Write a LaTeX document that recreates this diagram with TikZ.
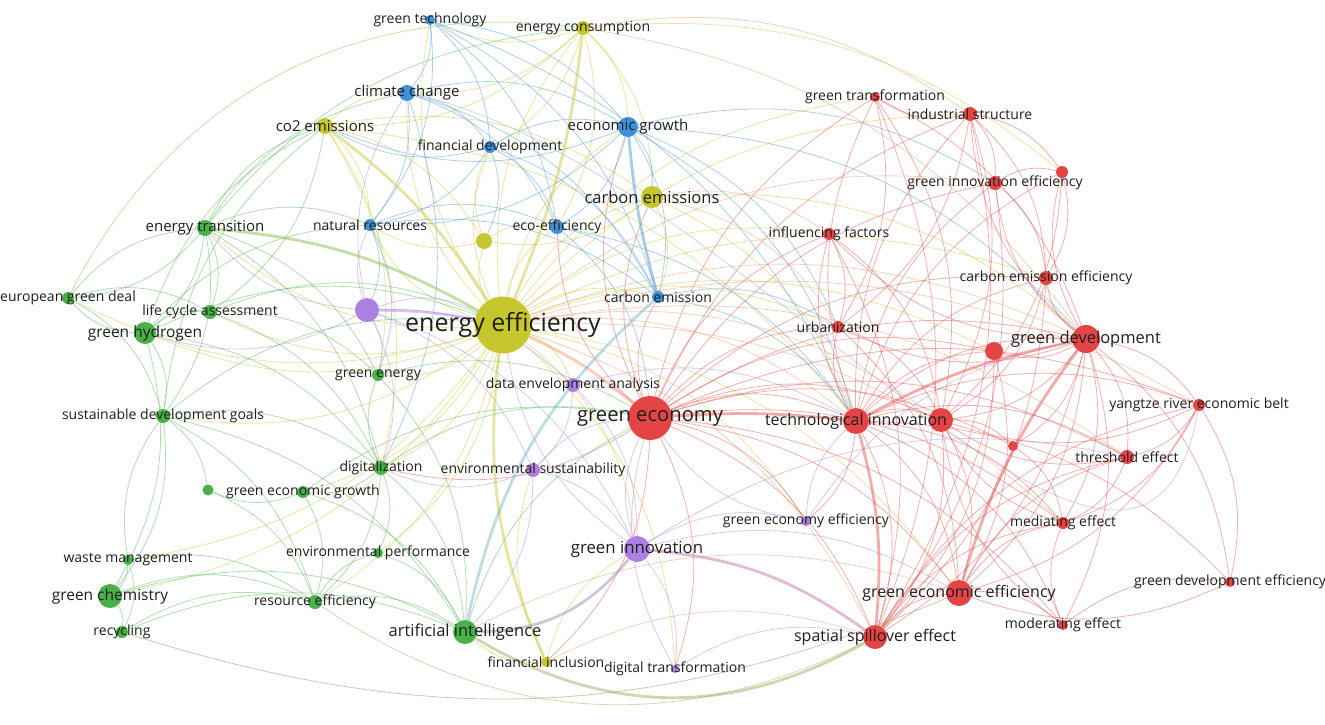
\documentclass[tikz,border=0pt]{standalone}
\usepackage{fontspec}
\setmainfont{Open Sans}
\newcommand\fsz[1]{\fontsize{#1pt}{#1pt}\selectfont}
\definecolor{cG}{RGB}{72,178,72}
\definecolor{cY}{RGB}{198,198,45}
\definecolor{cB}{RGB}{62,145,215}
\definecolor{cR}{RGB}{228,68,68}
\definecolor{cP}{RGB}{172,128,225}
\definecolor{cO}{RGB}{238,150,95}
\definecolor{cT}{RGB}{110,180,190}
\definecolor{cM}{RGB}{160,150,200}
\pgfdeclarelayer{back}
\pgfdeclarelayer{bg}
\pgfsetlayers{back,bg,main}
\tikzset{
  circ/.style={circle, inner sep=0pt, draw=none},
  nG/.style={circ, fill=cG}, nY/.style={circ, fill=cY}, nB/.style={circ, fill=cB},
  nR/.style={circ, fill=cR}, nP/.style={circ, fill=cP},
  lab/.style={inner sep=0pt, text=black!88, font=\fsz{14}},
  e/.style={line width=0.8pt, opacity=0.42, bend left=22},
  e0/.style={line width=0.8pt, opacity=0.42},
  eth/.style={line width=2.8pt, opacity=0.45},
}
\begin{document}
\begin{tikzpicture}[x=1pt, y=-1pt]
\begin{pgfonlayer}{back}
\fill[white] (0,0) rectangle (1325,725);
\end{pgfonlayer}
\useasboundingbox (0,0) rectangle (1325,725);
% ---------- nodes ----------
% blue
\node[nB, minimum size=10pt] (gtech) at (430,20) {};
\node[nB, minimum size=16pt] (cc) at (407,93) {};
\node[nB, minimum size=12pt] (fd) at (490,147) {};
\node[nB, minimum size=20pt] (egr) at (628,127) {};
\node[nB, minimum size=12pt] (nr) at (370,225) {};
\node[nB, minimum size=14pt] (eco) at (557,227) {};
\node[nB, minimum size=12pt] (ce) at (658,297) {};
% yellow
\node[nY, minimum size=14pt] (ec) at (583,28) {};
\node[nY, minimum size=16pt] (co2) at (325,126) {};
\node[nY, minimum size=22pt] (ces) at (652,197) {};
\node[nY, minimum size=16pt] (yel) at (484,241) {};
\node[nY, minimum size=57pt] (ee) at (503,325) {};
\node[nY, minimum size=10pt] (fi) at (546,662) {};
% purple
\node[nP, minimum size=24pt] (pur) at (367,310) {};
\node[nP, minimum size=14pt] (dea) at (573,385) {};
\node[nP, minimum size=14pt] (es) at (533,470) {};
\node[nP, minimum size=26pt] (gi) at (637,549) {};
\node[nP, minimum size=10pt] (gee) at (806,521) {};
\node[nP, minimum size=8pt] (dt) at (675,669) {};
% green
\node[nG, minimum size=16pt] (et) at (205,228) {};
\node[nG, minimum size=12pt] (egd) at (68,298) {};
\node[nG, minimum size=14pt] (lca) at (210,312) {};
\node[nG, minimum size=22pt] (gh) at (145,333) {};
\node[nG, minimum size=12pt] (gen) at (378,375) {};
\node[nG, minimum size=14pt] (sdg) at (163,416) {};
\node[nG, minimum size=14pt] (dig) at (381,468) {};
\node[nG, minimum size=11pt] (gu) at (208,490) {};
\node[nG, minimum size=12pt] (geg) at (303,492) {};
\node[nG, minimum size=10pt] (ep) at (378,553) {};
\node[nG, minimum size=10pt] (wm) at (128,560) {};
\node[nG, minimum size=24pt] (gc) at (110,596) {};
\node[nG, minimum size=14pt] (re) at (315,602) {};
\node[nG, minimum size=12pt] (rec) at (122,632) {};
\node[nG, minimum size=24pt] (ai) at (465,632) {};
% red
\node[nR, minimum size=10pt] (gt) at (875,97) {};
\node[nR, minimum size=14pt] (is) at (970,114) {};
\node[nR, minimum size=12pt] (ru1) at (1062,172) {};
\node[nR, minimum size=14pt] (gie) at (995,183) {};
\node[nR, minimum size=12pt] (inf) at (829,234) {};
\node[nR, minimum size=14pt] (cee) at (1046,278) {};
\node[nR, minimum size=12pt] (urb) at (838,327) {};
\node[nR, minimum size=18pt] (ru2) at (994,351) {};
\node[nR, minimum size=28pt] (gd) at (1086,339) {};
\node[nR, minimum size=44pt] (gec) at (650,418) {};
\node[nR, minimum size=26pt] (ti) at (856,421) {};
\node[nR, minimum size=24pt] (ru3) at (941,420) {};
\node[nR, minimum size=10pt] (ru4) at (1013,446) {};
\node[nR, minimum size=12pt] (yr) at (1199,405) {};
\node[nR, minimum size=14pt] (th) at (1127,457) {};
\node[nR, minimum size=12pt] (me) at (1063,523) {};
\node[nR, minimum size=10pt] (gdeff) at (1230,582) {};
\node[nR, minimum size=26pt] (gef) at (959,593) {};
\node[nR, minimum size=10pt] (mo) at (1063,625) {};
\node[nR, minimum size=24pt] (sse) at (875,637) {};
% ---------- labels ----------
\node[lab] (gtech-t) at (gtech) {green technology};
\node[lab, font=\fsz{15}] (cc-t) at (cc) {climate change};
\node[lab] (fd-t) at (fd) {financial development};
\node[lab, font=\fsz{15}] (egr-t) at (egr) {economic growth};
\node[lab] (nr-t) at (nr) {natural resources};
\node[lab] (eco-t) at (eco) {eco-efficiency};
\node[lab] (ce-t) at (ce) {carbon emission};
\node[lab] (ec-t) at (ec) {energy consumption};
\node[lab, font=\fsz{15}] (co2-t) at (co2) {co2 emissions};
\node[lab, font=\fsz{16.5}] (ces-t) at (ces) {carbon emissions};
\node[lab, font=\fsz{25}] (ee-t) at (ee) {energy efficiency};
\node[lab] (fi-t) at (fi) {financial inclusion};
\node[lab] (dea-t) at (dea) {data envelopment analysis};
\node[lab] (es-t) at (es) {environmental sustainability};
\node[lab, font=\fsz{16.8}] (gi-t) at (gi) {green innovation};
\node[lab] (gee-t) at (gee) {green economy efficiency};
\node[lab] (dt-t) at (dt) {digital transformation};
\node[lab, font=\fsz{15}] (et-t) at (et) {energy transition};
\node[lab] (egd-t) at (egd) {european green deal};
\node[lab] (lca-t) at (lca) {life cycle assessment};
\node[lab, font=\fsz{15.5}] (gh-t) at (gh) {green hydrogen};
\node[lab] (gen-t) at (gen) {green energy};
\node[lab] (sdg-t) at (sdg) {sustainable development goals};
\node[lab] (dig-t) at (dig) {digitalization};
\node[lab] (geg-t) at (geg) {green economic growth};
\node[lab] (ep-t) at (ep) {environmental performance};
\node[lab] (wm-t) at (wm) {waste management};
\node[lab, font=\fsz{15.5}] (gc-t) at (gc) {green chemistry};
\node[lab] (re-t) at (re) {resource efficiency};
\node[lab] (rec-t) at (rec) {recycling};
\node[lab, font=\fsz{16.5}] (ai-t) at (ai) {artificial intelligence};
\node[lab] (gt-t) at (gt) {green transformation};
\node[lab] (is-t) at (is) {industrial structure};
\node[lab] (gie-t) at (gie) {green innovation efficiency};
\node[lab] (inf-t) at (inf) {influencing factors};
\node[lab] (cee-t) at (cee) {carbon emission efficiency};
\node[lab] (urb-t) at (urb) {urbanization};
\node[lab, font=\fsz{16.5}] (gd-t) at (gd) {green development};
\node[lab, font=\fsz{20.2}] (gec-t) at (gec) {green economy};
\node[lab, font=\fsz{16}] (ti-t) at (ti) {technological innovation};
\node[lab] (yr-t) at (yr) {yangtze river economic belt};
\node[lab] (th-t) at (th) {threshold effect};
\node[lab] (me-t) at (me) {mediating effect};
\node[lab] (gdeff-t) at (gdeff) {green development efficiency};
\node[lab, font=\fsz{16}] (gef-t) at (gef) {green economic efficiency};
\node[lab] (mo-t) at (mo) {moderating effect};
\node[lab, font=\fsz{16}] (sse-t) at (sse) {spatial spillover effect};
% ---------- edges ----------
\begin{pgfonlayer}{bg}
% yellow hub
\foreach \b in {gtech,cc,fd,egr,nr,eco,ce,ec,ces,yel,dea,gi,et,lca,gh,gen,sdg,dig,geg,ep,re,egd,wm,gc,inf,urb,gee,dt,gef,cee,is,gt,ru2}
  \draw[e, draw=cY] (ee) to (\b);
\foreach \a/\b in {ec/co2,ec/ces,ec/egr,ec/gtech,ec/cc,co2/ces,co2/nr,co2/yel,co2/cc,ces/yel,ces/ce,yel/nr,yel/fd,fi/gi,fi/es,fi/ai,ec/fd,ces/gd,ces/ti,co2/gen,co2/dig,yel/eco,ec/ru1,co2/ti,ec/eco}
  \draw[e, draw=cY] (\a) to (\b);
% blue
\foreach \a/\b in {gtech/cc,gtech/fd,gtech/egr,gtech/nr,gtech/eco,gtech/ce,cc/fd,cc/egr,cc/nr,cc/eco,cc/ce,fd/egr,fd/nr,fd/eco,fd/ce,fd/co2,egr/eco,egr/ce,egr/ces,egr/nr,egr/co2,nr/eco,nr/ce,eco/ce,egr/ti,egr/gd,eco/ti,ce/ti,ce/urb,nr/gen,cc/dig,fd/yel,eco/gec,nr/pur,egr/urb,gtech/ti,egr/gie}
  \draw[e, draw=cB] (\a) to (\b);
\draw[e0, draw=cM] (cc) to[out=-12, in=-100] (yr);
% red hub green economy
\foreach \b in {ti,sse,gef,gd,ru2,ru3,th,me,cee,inf,urb,is,gie,gt,yr,ces,ce,egr,eco,dig,fi,dt,gee,ru4,mo}
  \draw[e, draw=cR] (gec) to (\b);
\foreach \a/\b in {ti/gd,ti/sse,ti/gef,ti/urb,ti/inf,ti/is,ti/gie,ti/ru1,ti/cee,ti/ru2,ti/ru3,ti/th,ti/yr,ti/me,ti/mo,ti/gdeff,ti/gt,ti/gee,
  gd/ru2,gd/cee,gd/ru1,gd/is,gd/gie,gd/yr,gd/th,gd/gdeff,gd/sse,gd/gef,gd/me,gd/mo,gd/urb,gd/inf,gd/ru3,gd/ru4,
  is/gt,is/gie,is/ru1,is/cee,is/urb,gie/ru1,gie/cee,ru1/cee,sse/gef,sse/me,sse/th,sse/yr,gef/me,gef/mo,gef/th,yr/th,yr/gdeff,yr/me,th/me,mo/me,mo/gdeff,
  ru3/ru4,ru4/me,ru3/sse,ru3/gef,inf/urb,gt/urb,gt/sse,gt/ru3,is/sse,is/ru3,inf/sse,urb/gef,ru2/sse,ru2/gef,cee/sse,cee/ru3,yr/ru3,th/ru3,gie/sse,gdeff/gef,mo/ru3,me/ru3,urb/ru3,inf/ru3,ru1/ru3,yr/gef,gt/gd}
  \draw[e, draw=cR] (\a) to (\b);
% orange mixed (red-yellow)
\foreach \a/\b in {ee/ti,ee/gd,ee/sse,ee/ru3,ee/th,ee/me,ee/yr,ces/urb,ces/inf,ec/gd,ec/is,ee/gie,fi/sse,ai/gef}
  \draw[e, draw=cO] (\a) to (\b);
% purple
\foreach \a/\b in {pur/ee,pur/nr,pur/dea,pur/es,pur/gi,dea/gi,dea/es,es/gi,gi/dt,gi/gee,gi/gef,gee/ti,dt/sse,es/dig,pur/et,pur/gen,pur/cc,dea/gec,es/gec,gi/gec,gi/ee,dea/ti,gee/gd,es/ai,gi/th,dt/gec,pur/dig,gee/gec,pur/gh}
  \draw[e, draw=cP] (\a) to (\b);
% green
\foreach \a/\b in {et/lca,et/gh,et/egd,et/sdg,et/gen,gh/lca,gh/egd,gh/sdg,gh/gc,egd/lca,egd/sdg,lca/gen,sdg/gu,sdg/dig,sdg/gc,dig/geg,dig/ep,dig/ai,dig/re,dig/gen,geg/re,geg/gu,gu/re,wm/gc,wm/rec,gc/rec,gc/re,re/ai,re/ep,ep/ai,gen/ai,wm/re,et/co2,co2/lca,et/nr,gh/nr,sdg/ai,geg/ai,et/dig,lca/dig,gh/dig,egd/et,sdg/re,wm/sdg,gc/ai,rec/re,geg/gec,dig/gec,ai/gec,gen/gec,et/cc,lca/ee,gh/ee,sdg/ee,gh/co2,sdg/co2,et/ec,rec/ai}
  \draw[e, draw=cG] (\a) to (\b);
\draw[e, draw=cG!60!cY, bend left=35] (egd) to (ec);
\draw[e, draw=cG!50!cO, bend right=30] (re) to (sse);
\draw[e, draw=cG!50!cR, bend right=20] (rec) to (gef);
% thick links
\draw[eth, draw=cY] (co2) to[bend left=10] (ee);
\draw[eth, draw=cY] (ee) to[bend right=15] (fi);
\draw[eth, draw=cY] (ec) to[bend left=8] (ee);
\draw[eth, draw=cG!60!cY] (et) to[bend left=12] (ee);
\draw[eth, draw=cO] (ee) to[bend left=8] (gec);
\draw[eth, draw=cR] (gec) to[bend left=5] (ti);
\draw[eth, draw=cR] (ti) to[bend left=8] (gd);
\draw[eth, draw=cR] (ti) to[bend left=10] (sse);
\draw[eth, draw=cR] (gef) to[bend left=10] (gd);
\draw[eth, draw=cP!60!cR] (gi) to[bend left=15] (sse);
\draw[eth, draw=cP!50!gray] (gi) to[bend left=25] (ai);
\draw[eth, draw=cT] (ai) to[bend left=18] (ce);
\draw[eth, draw=cG!50!cO] (ai) to[bend right=30] (sse);
\draw[eth, draw=cP] (pur) to[bend left=5] (ee);
\draw[eth, draw=cB] (egr) to[bend right=5] (ce);
\end{pgfonlayer}
\end{tikzpicture}
\end{document}
